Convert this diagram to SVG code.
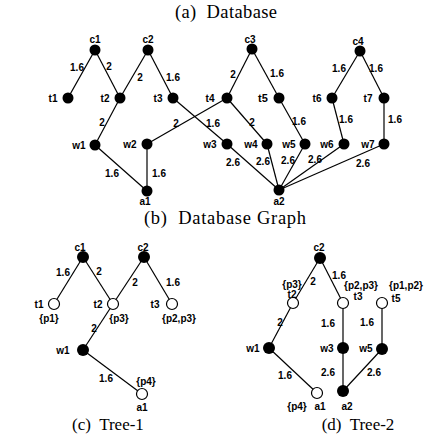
<svg xmlns="http://www.w3.org/2000/svg" width="443" height="438" viewBox="0 0 443 438">
<style>
.e line{stroke:#000;stroke-width:1.2}
.f{fill:#000}
.o{fill:#fff;stroke:#000;stroke-width:1.2}
text{font-family:"Liberation Sans",Arial,sans-serif;font-weight:bold;font-size:10px;text-anchor:middle}
text.cap{font-family:"Liberation Serif","Times New Roman",serif;font-weight:normal;font-size:17px;white-space:pre}
text.big{font-size:18.5px}
</style>
<rect width="443" height="438" fill="#fff"/>
<text class="cap big" x="226" y="18" textLength="102">(a)  Database</text>
<text class="cap big" x="225" y="224" textLength="162">(b)  Database Graph</text>
<text class="cap" x="108" y="430">(c)  Tree-1</text>
<text class="cap" x="358" y="430">(d)  Tree-2</text>

<!-- (b) connectors -->
<g id="b-edges" class="e">
<line x1="95" y1="50" x2="68" y2="98"/>
<line x1="95" y1="50" x2="120" y2="98"/>
<line x1="148" y1="50" x2="120" y2="98"/>
<line x1="148" y1="50" x2="173" y2="98"/>
<line x1="120" y1="98" x2="95" y2="145"/>
<line x1="173" y1="98" x2="227" y2="144"/>
<line x1="227" y1="98" x2="147" y2="144"/>
<line x1="95" y1="145" x2="147" y2="191"/>
<line x1="147" y1="144" x2="147" y2="191"/>
<line x1="252" y1="49" x2="227" y2="98"/>
<line x1="252" y1="49" x2="279" y2="98"/>
<line x1="227" y1="98" x2="267" y2="144"/>
<line x1="279" y1="98" x2="305" y2="144"/>
<line x1="360" y1="51" x2="332" y2="98"/>
<line x1="360" y1="51" x2="384" y2="98"/>
<line x1="332" y1="98" x2="344" y2="144"/>
<line x1="384" y1="98" x2="384" y2="144"/>
<line x1="227" y1="144" x2="279" y2="190"/>
<line x1="267" y1="144" x2="279" y2="190"/>
<line x1="305" y1="144" x2="279" y2="190"/>
<line x1="344" y1="144" x2="279" y2="190"/>
<line x1="384" y1="144" x2="279" y2="190"/>
</g>
<g id="b-edge-labels">
<text x="77" y="70.5">1.6</text><text x="109" y="69.5">2</text><text x="140" y="80.5">2</text><text x="173" y="80.5">1.6</text>
<text x="102" y="125.5">2</text><text x="176" y="126.5">2</text><text x="213" y="126.5">1.6</text>
<text x="112" y="176.5">1.6</text><text x="159" y="176.5">1.6</text>
<text x="233" y="77.5">2</text><text x="277" y="76.5">1.6</text><text x="252" y="125.5">2</text><text x="299" y="124.5">1.6</text>
<text x="339" y="71.5">1.6</text><text x="376" y="71.5">1.6</text><text x="346" y="122.5">1.6</text><text x="395" y="122.5">1.6</text>
<text x="233" y="165.5">2.6</text><text x="263" y="164.5">2.6</text><text x="288" y="163.5">2.6</text><text x="315" y="162.5">2.6</text><text x="363" y="166.5">2.6</text>
</g>
<g id="b-c1"><circle class="f" cx="95" cy="50" r="5.5"/><text x="95" y="43">c1</text></g>
<g id="b-c2"><circle class="f" cx="148" cy="50" r="5.5"/><text x="148" y="43">c2</text></g>
<g id="b-c3"><circle class="f" cx="252" cy="49" r="5.5"/><text x="250" y="43">c3</text></g>
<g id="b-c4"><circle class="f" cx="360" cy="51" r="5.5"/><text x="358" y="44.5">c4</text></g>
<g id="b-t1"><circle class="f" cx="68" cy="98" r="5.5"/><text x="53" y="101.5">t1</text></g>
<g id="b-t2"><circle class="f" cx="120" cy="98" r="5.5"/><text x="105" y="101.5">t2</text></g>
<g id="b-t3"><circle class="f" cx="173" cy="98" r="5.5"/><text x="158" y="101.5">t3</text></g>
<g id="b-t4"><circle class="f" cx="227" cy="98" r="5.5"/><text x="210" y="101.5">t4</text></g>
<g id="b-t5"><circle class="f" cx="279" cy="98" r="5.5"/><text x="263" y="102" style="font-size:11px">t5</text></g>
<g id="b-t6"><circle class="f" cx="332" cy="98" r="5.5"/><text x="317" y="101.5">t6</text></g>
<g id="b-t7"><circle class="f" cx="384" cy="98" r="5.5"/><text x="368" y="101.5">t7</text></g>
<g id="b-w1"><circle class="f" cx="95" cy="145" r="5.5"/><text x="79" y="148.5">w1</text></g>
<g id="b-w2"><circle class="f" cx="147" cy="144" r="5.5"/><text x="130" y="147.5">w2</text></g>
<g id="b-w3"><circle class="f" cx="227" cy="144" r="5.5"/><text x="210" y="147.5">w3</text></g>
<g id="b-w4"><circle class="f" cx="267" cy="144" r="5.5"/><text x="251" y="147.5">w4</text></g>
<g id="b-w5"><circle class="f" cx="305" cy="144" r="5.5"/><text x="289" y="147.5">w5</text></g>
<g id="b-w6"><circle class="f" cx="344" cy="144" r="5.5"/><text x="327" y="147.5">w6</text></g>
<g id="b-w7"><circle class="f" cx="384" cy="144" r="5.5"/><text x="368" y="147.5">w7</text></g>
<g id="b-a1"><circle class="f" cx="147" cy="191" r="5.5"/><text x="145" y="205">a1</text></g>
<g id="b-a2"><circle class="f" cx="279" cy="190" r="5.5"/><text x="279" y="205">a2</text></g>

<!-- (c) Tree-1 -->
<g id="c-edges" class="e">
<line x1="83" y1="257" x2="54" y2="304"/>
<line x1="83" y1="257" x2="113" y2="304"/>
<line x1="144" y1="257" x2="113" y2="304"/>
<line x1="144" y1="257" x2="172" y2="304"/>
<line x1="113" y1="304" x2="83" y2="350"/>
<line x1="83" y1="350" x2="142" y2="394"/>
</g>
<g id="c-edge-labels">
<text x="63" y="275.5">1.6</text><text x="99" y="274.5">2</text><text x="135" y="285.5">2</text><text x="173" y="285.5">1.6</text>
<text x="94" y="331.5">2</text><text x="106" y="381.5">1.6</text>
</g>
<g id="c-c1"><circle class="f" cx="83" cy="257" r="6"/><text x="80" y="250.5">c1</text></g>
<g id="c-c2"><circle class="f" cx="144" cy="257" r="6"/><text x="143" y="250.5">c2</text></g>
<g id="c-t1"><circle class="o" cx="54" cy="304" r="5.5"/><text x="39" y="307.5">t1</text><text x="49" y="321.5">{p1}</text></g>
<g id="c-t2"><circle class="o" cx="113" cy="304" r="5.5"/><text x="98" y="307.5">t2</text><text x="119" y="321.5">{p3}</text></g>
<g id="c-t3"><circle class="o" cx="172" cy="304" r="5.5"/><text x="155" y="307.5">t3</text><text x="179" y="321.5">{p2,p3}</text></g>
<g id="c-w1"><circle class="f" cx="83" cy="350" r="6"/><text x="63" y="353.5">w1</text></g>
<g id="c-a1"><circle class="o" cx="142" cy="394" r="5.5"/><text x="146" y="384.5">{p4}</text><text x="142" y="411">a1</text></g>

<!-- (d) Tree-2 -->
<g id="d-edges" class="e">
<line x1="320" y1="258" x2="293" y2="303"/>
<line x1="320" y1="258" x2="343" y2="303"/>
<line x1="293" y1="303" x2="269" y2="348"/>
<line x1="343" y1="303" x2="343" y2="348"/>
<line x1="382" y1="303" x2="382" y2="349"/>
<line x1="269" y1="348" x2="317" y2="393"/>
<line x1="343" y1="348" x2="343" y2="391"/>
<line x1="382" y1="349" x2="343" y2="391"/>
</g>
<g id="d-edge-labels">
<text x="313" y="284.5">2</text><text x="339" y="278.5">1.6</text><text x="280" y="325.5">2</text><text x="328" y="326.5">1.6</text>
<text x="367" y="325.5">1.6</text><text x="285" y="378.5">1.6</text><text x="328" y="375.5">2.6</text><text x="374" y="375.5">2.6</text>
</g>
<g id="d-c2"><circle class="f" cx="320" cy="258" r="6"/><text x="319" y="251">c2</text></g>
<g id="d-t2"><circle class="o" cx="293" cy="303" r="5.5"/><text x="292" y="288">{p3}</text><text x="292" y="297.5">t2</text></g>
<g id="d-t3"><circle class="o" cx="343" cy="303" r="5.5"/><text x="361" y="289">{p2,p3}</text><text x="358" y="299.5">t3</text></g>
<g id="d-t5"><circle class="o" cx="382" cy="303" r="5.5"/><text x="406" y="289">{p1,p2}</text><text x="396" y="301.5">t5</text></g>
<g id="d-w1"><circle class="f" cx="269" cy="348" r="6"/><text x="253" y="351.5">w1</text></g>
<g id="d-w3"><circle class="f" cx="343" cy="348" r="6"/><text x="327" y="351.5">w3</text></g>
<g id="d-w5"><circle class="f" cx="382" cy="349" r="6"/><text x="366" y="351.5">w5</text></g>
<g id="d-a1"><circle class="o" cx="317" cy="393" r="5.5"/><text x="297" y="410">{p4}</text><text x="320" y="410">a1</text></g>
<g id="d-a2"><circle class="f" cx="343" cy="391" r="6"/><text x="347" y="410">a2</text></g>
</svg>
